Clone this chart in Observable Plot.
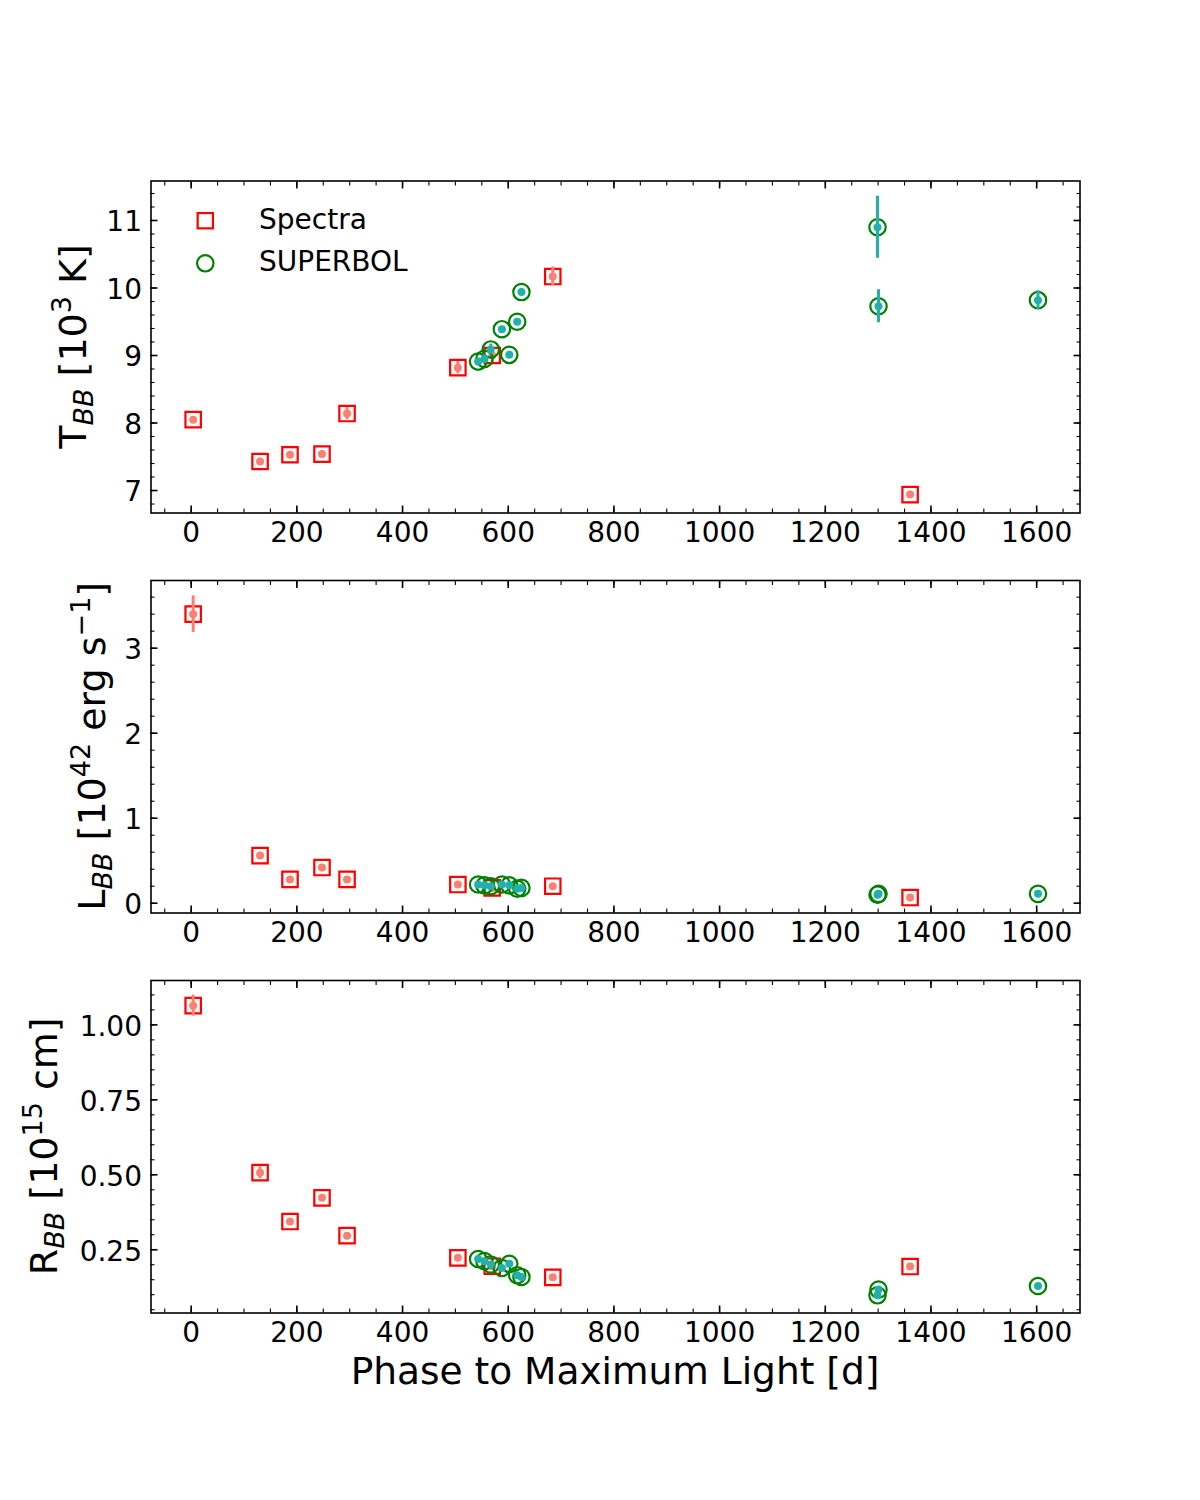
<!DOCTYPE html>
<html>
<head>
<meta charset="utf-8">
<script src="https://cdn.jsdelivr.net/npm/d3@7"></script>
<script src="https://cdn.jsdelivr.net/npm/@observablehq/plot@0.6"></script>
<style>
  body { margin: 0; background: #fff; }
  #chart { position: relative; width: 1200px; height: 1500px; background: #fff; font-family: "DejaVu Sans", sans-serif; }
  #chart svg { position: absolute; left: 0; overflow: visible; }
</style>
</head>
<body>
<div id="chart"></div>
<script>
// ---------- Data ----------
// Spectra (red squares / salmon dots)
const specPhase = [3.8, 130.4, 187, 247.6, 295, 504.7, 569.7, 684.3, 1360.5];
const specT     = [8.05, 7.43, 7.53, 7.54, 8.14, 8.82, 9.00, 10.17, 6.94];
const specTerr  = [0.04, 0.04, 0.04, 0.04, 0.09, 0.09, 0.10, 0.14, 0.04];
const specL     = [3.40, 0.56, 0.28, 0.42, 0.28, 0.22, 0.18, 0.20, 0.067];
const specLerr  = [0.215, 0.02, 0.01, 0.02, 0.01, 0.01, 0.01, 0.01, 0.005];
const specR     = [1.064, 0.507, 0.344, 0.423, 0.297, 0.223, 0.195, 0.158, 0.194];
const specRerr  = [0.035, 0.02, 0.005, 0.008, 0.005, 0.005, 0.005, 0.004, 0.003];

// SUPERBOL (green circles / teal dots)
const sbPhase = [543, 555, 567, 588, 602, 617, 625, 1298.8, 1300.7, 1602.5];
const sbT     = [8.91, 8.95, 9.09, 9.39, 9.01, 9.50, 9.94, 10.90, 9.73, 9.82];
const sbTerr  = [0.05, 0.06, 0.08, 0.04, 0.05, 0.04, 0.05, 0.46, 0.245, 0.14];
const sbL     = [0.22, 0.21, 0.20, 0.22, 0.21, 0.17, 0.18, 0.10, 0.11, 0.11];
const sbLerr  = [0.01, 0.01, 0.01, 0.01, 0.01, 0.01, 0.01, 0.01, 0.01, 0.01];
const sbR     = [0.219, 0.212, 0.201, 0.189, 0.203, 0.165, 0.159, 0.098, 0.117, 0.129];
const sbRerr  = [0.004, 0.004, 0.004, 0.004, 0.004, 0.004, 0.004, 0.005, 0.005, 0.004];

// Ticks
const xTicks = [0, 200, 400, 600, 800, 1000, 1200, 1400, 1600];
const xMinor = d3.range(-1, 34).map(d => d * 50);
const tTicks = [7, 8, 9, 10, 11];
const tMinor = d3.range(34, 58).map(d => d / 5);
const lTicks = [0, 1, 2, 3];
const lMinor = d3.range(0, 19).map(d => d / 5);
const rTicks = [0.25, 0.5, 0.75, 1.0];
const rMinor = d3.range(1, 23).map(d => d / 20);

const seriesNames = ["Spectra", "SUPERBOL"];

// ---------- Build rows ----------
const spec = specPhase.map((p, i) => ({phase: p, T: specT[i], Te: specTerr[i], L: specL[i], Le: specLerr[i], R: specR[i], Re: specRerr[i]}));
const sb = sbPhase.map((p, i) => ({phase: p, T: sbT[i], Te: sbTerr[i], L: sbL[i], Le: sbLerr[i], R: sbR[i], Re: sbRerr[i]}));

const RED = "#ff0000", GREEN = "#008000", SALMON = "#fa8072", TEAL = "#20b2aa";
const xDomain = [-76, 1682];

function axesMarks(yMajor, yMinor, yFmt) {
  const tickCommon = {fill: "none", label: null, stroke: "black"};
  return [
    Plot.axisX(xTicks, {...tickCommon, anchor: "bottom", tickSize: 7, dy: -7, strokeWidth: 1.6}),
    Plot.axisX(xTicks, {...tickCommon, anchor: "top", tickSize: 7, dy: 7, strokeWidth: 1.6}),
    Plot.axisY(yMajor, {...tickCommon, anchor: "left", tickSize: 7, dx: 7, strokeWidth: 1.6}),
    Plot.axisY(yMajor, {...tickCommon, anchor: "right", tickSize: 7, dx: -7, strokeWidth: 1.6}),
    Plot.axisX(xMinor, {...tickCommon, anchor: "bottom", tickSize: 4, dy: -4, strokeWidth: 1.1}),
    Plot.axisX(xMinor, {...tickCommon, anchor: "top", tickSize: 4, dy: 4, strokeWidth: 1.1}),
    Plot.axisY(yMinor, {...tickCommon, anchor: "left", tickSize: 4, dx: 4, strokeWidth: 1.1}),
    Plot.axisY(yMinor, {...tickCommon, anchor: "right", tickSize: 4, dx: -4, strokeWidth: 1.1}),
    Plot.axisX(xTicks, {anchor: "bottom", tickSize: 0, tickPadding: 9, fontSize: 28, label: null, fill: "black", tickFormat: d3.format("d")}),
    Plot.axisY(yMajor, {anchor: "left", tickSize: 0, tickPadding: 9, fontSize: 28, label: null, fill: "black", dy: 2, tickFormat: yFmt}),
    Plot.frame({stroke: "black", strokeWidth: 1.6})
  ];
}

function panel(key, yDomain, yMajor, yMinor, yFmt, layout) {
  const ek = key + "e";
  return Plot.plot({
    width: 1200,
    height: layout.height,
    marginLeft: 150.5,
    marginRight: 120.5,
    marginTop: layout.top,
    marginBottom: layout.bottom,
    style: {fontFamily: "DejaVu Sans", fontSize: "28px", color: "black", background: "transparent", overflow: "visible"},
    x: {domain: xDomain, axis: null},
    y: {domain: yDomain, axis: null},
    marks: [
      Plot.dot(spec, {x: "phase", y: key, symbol: "square", r: 8.7, stroke: RED, strokeWidth: 2.2, fill: "none"}),
      Plot.ruleX(spec, {x: "phase", y1: d => d[key] - d[ek], y2: d => d[key] + d[ek], stroke: SALMON, strokeWidth: 3}),
      Plot.dot(spec, {x: "phase", y: key, r: 4, fill: SALMON}),
      Plot.dot(sb, {x: "phase", y: key, r: 8.2, stroke: GREEN, strokeWidth: 2.2, fill: "none"}),
      Plot.ruleX(sb, {x: "phase", y1: d => d[key] - d[ek], y2: d => d[key] + d[ek], stroke: TEAL, strokeWidth: 3}),
      Plot.dot(sb, {x: "phase", y: key, r: 4, fill: TEAL}),
      ...axesMarks(yMajor, yMinor, yFmt)
    ]
  });
}

function addYLabel(svg, parts, x, y) {
  const t = d3.select(svg).append("text")
    .attr("transform", `translate(${x},${y}) rotate(-90)`)
    .attr("text-anchor", "middle")
    .attr("font-family", "DejaVu Sans")
    .attr("font-size", 38)
    .attr("fill", "black");
  let shift = 0;
  for (const p of parts) {
    const target = p.sub ? 7 : p.sup ? -15 : 0;
    const ts = t.append("tspan").text(p.t).attr("dy", target - shift);
    if (p.sub || p.sup) ts.attr("font-size", 27);
    if (p.sub) ts.attr("font-style", "italic");
    shift = target;
  }
}

const chart = document.getElementById("chart");

const top1 = panel("T", [6.667, 11.585], tTicks, tMinor, d3.format("d"), {height: 546, top: 180.5, bottom: 33.5});
top1.style.top = "0px";
chart.appendChild(top1);

const mid = panel("L", [-0.115, 3.796], lTicks, lMinor, d3.format("d"), {height: 400, top: 34, bottom: 33.5});
mid.style.top = "546px";
chart.appendChild(mid);

const bot = panel("R", [0.039, 1.148], rTicks, rMinor, d3.format(".2f"), {height: 554, top: 34, bottom: 187.5});
bot.style.top = "946px";
chart.appendChild(bot);

// Y labels
addYLabel(top1, [{t: "T"}, {t: "BB", sub: true}, {t: " [10"}, {t: "3", sup: true}, {t: " K]"}], 86, 346.5);
addYLabel(mid, [{t: "L"}, {t: "BB", sub: true}, {t: " [10"}, {t: "42", sup: true}, {t: " erg s"}, {t: "−1", sup: true}, {t: "]"}], 105, 200.25);
addYLabel(bot, [{t: "R"}, {t: "BB", sub: true}, {t: " [10"}, {t: "15", sup: true}, {t: " cm]"}], 57, 200.25);

// X label
d3.select(bot).append("text")
  .attr("x", 615).attr("y", 438)
  .attr("text-anchor", "middle")
  .attr("font-family", "DejaVu Sans")
  .attr("font-size", 37.5)
  .attr("fill", "black")
  .text("Phase to Maximum Light [d]");

// Legend (top panel)
const lg = d3.select(top1).append("g");
const sq = 15.3;
lg.append("rect").attr("x", 205.3 - sq / 2).attr("y", 220.7 - sq / 2).attr("width", sq).attr("height", sq)
  .attr("fill", "none").attr("stroke", RED).attr("stroke-width", 2.2);
lg.append("circle").attr("cx", 205.3).attr("cy", 263.3).attr("r", 8.2)
  .attr("fill", "none").attr("stroke", GREEN).attr("stroke-width", 2.2);
lg.selectAll("text.lgt").data(seriesNames).join("text")
  .attr("class", "lgt")
  .attr("x", 259).attr("y", (d, i) => i === 0 ? 228.5 : 270.5)
  .attr("text-anchor", "start")
  .attr("font-family", "DejaVu Sans").attr("font-size", 28).attr("fill", "black")
  .text(d => d);
</script>
</body>
</html>
